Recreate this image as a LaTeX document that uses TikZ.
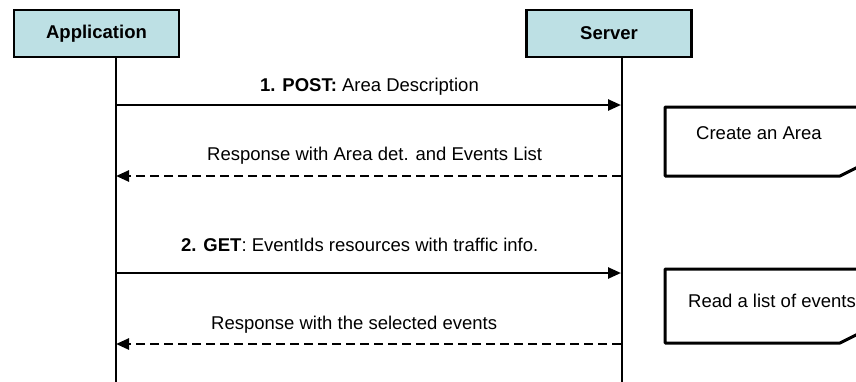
\documentclass[tikz,border=0pt]{standalone}
\usepackage{fontspec}
\setmainfont{Liberation Sans}
\usetikzlibrary{arrows.meta}
\definecolor{boxfill}{RGB}{189,224,228}
\begin{document}
\begin{tikzpicture}[x=1pt,y=-1pt,
  every node/.style={font=\fontsize{18.5}{22}\selectfont, inner sep=0pt},
  actor/.style={draw=black, line width=2.5pt, fill=boxfill, minimum width=165pt, minimum height=47pt, font=\fontsize{18.5}{22}\selectfont\bfseries},
  lifeline/.style={line width=2pt},
  msg/.style={line width=2.5pt, -{Triangle[length=13pt,width=11pt]}},
  reply/.style={msg, dash pattern=on 9pt off 5pt},
  notebox/.style={line width=3pt, line join=round},
  lbl/.style={anchor=west}]
\useasboundingbox (0,0) rectangle (856,381);
\clip (0,0) rectangle (856,381);

% actors
\node[actor] (app) at (96.5,33.5) {Application};
\node[actor] (srv) at (609,33.5) {Server};

% lifeline anchors
\coordinate (Atop) at (115.5,57);
\coordinate (Abot) at (115.5,385);
\coordinate (Stop) at (621.5,57);
\coordinate (Sbot) at (621.5,385);
\draw[lifeline] (Atop) -- (Abot);
\draw[lifeline] (Stop) -- (Sbot);

% message points
\coordinate (A1) at (116,105);  \coordinate (S1) at (621,105);
\coordinate (A2) at (116,176);  \coordinate (S2) at (621,176);
\coordinate (A3) at (116,273);  \coordinate (S3) at (621,273);
\coordinate (A4) at (116,344);  \coordinate (S4) at (621,344);

\draw[msg] (A1) -- (S1);
\draw[reply] (S2) -- (A2);
\draw[msg] (A3) -- (S3);
\draw[reply] (S4) -- (A4);

% labels
\node[lbl] (l1) at (260,87) {\textbf{1. POST:} Area Description};
\node[lbl] (l2) at (207,156) {Response with Area det. and Events List};
\node[lbl] (l3) at (181,245) {\textbf{2. GET}: EventIds resources with traffic info.};
\node[lbl] (l4) at (211,325) {Response with the selected events};

% notes
\coordinate (n1tr) at (880,107); \coordinate (n1tl) at (665,107);
\coordinate (n1bl) at (665,176); \coordinate (n1c) at (840,176);
\coordinate (n1r) at (880,156);
\draw[notebox] (n1tr) -- (n1tl) -- (n1bl) -- (n1c) -- (n1r);
\node[lbl] (t1) at (696,133) {Create an Area};

\coordinate (n2tr) at (880,269); \coordinate (n2tl) at (665,269);
\coordinate (n2bl) at (665,343); \coordinate (n2c) at (840,343);
\coordinate (n2r) at (880,323);
\draw[notebox] (n2tr) -- (n2tl) -- (n2bl) -- (n2c) -- (n2r);
\node[lbl] (t2) at (688,301) {Read a list of events};
\end{tikzpicture}
\end{document}
